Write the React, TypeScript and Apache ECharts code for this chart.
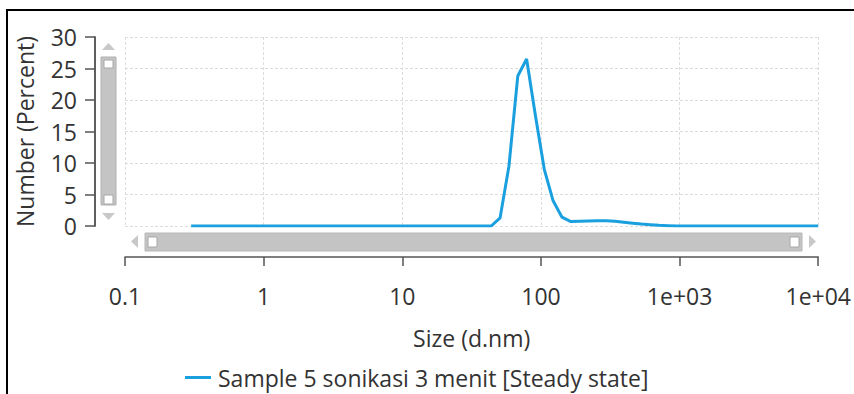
import React, { useEffect, useRef } from "react";
import * as echarts from "echarts";

const sizes = [0.3, 1, 10, 37.84, 43.82, 50.75, 58.77, 68.06, 78.82, 91.28, 105.7, 122.4, 141.8, 164.2, 190.1, 220.2, 255.0, 295.3, 342.0, 396.1, 458.7, 531.2, 615.1, 712.4, 825.0, 955.4, 1106, 10000];
const numbers = [0, 0, 0, 0, 0, 1.3, 9.5, 23.8, 26.5, 17.5, 9.0, 4.0, 1.4, 0.7, 0.75, 0.8, 0.85, 0.85, 0.75, 0.6, 0.45, 0.3, 0.2, 0.1, 0.05, 0, 0, 0];
const xTickLabels = ["0.1", "1", "10", "100", "1e+03", "1e+04"];
const seriesName = "Sample 5 sonikasi 3 menit [Steady state]";
const xTitle = "Size (d.nm)";
const yTitle = "Number (Percent)";

const FONT = "Open Sans";
const FS = 23;
const TXT = "#333333";
const BLUE = "#1a9fdf";
const GRAYBAR = "#c4c4c4";
const ARROW = "#c8c8c8";
const AXIS = "#555555";

export default function App() {
  const ref = useRef<HTMLDivElement>(null);
  useEffect(() => {
    if (!ref.current) return;
    const chart = echarts.init(ref.current, null, { renderer: "svg" });
    const data = sizes.map((s, i) => [s, numbers[i]]);
    chart.setOption({
      animation: false,
      textStyle: { fontFamily: FONT },
      grid: { left: 125, right: 34, top: 37, bottom: 168, containLabel: false },
      xAxis: {
        type: "log",
        logBase: 10,
        min: 0.1,
        max: 10000,
        offset: 31,
        name: xTitle,
        nameLocation: "middle",
        nameGap: 69,
        nameTextStyle: { fontSize: FS, color: TXT, fontFamily: FONT, verticalAlign: "top" },
        axisLine: { show: true, onZero: false, lineStyle: { color: AXIS, width: 1.5 } },
        axisTick: { show: true, length: 9, lineStyle: { color: AXIS, width: 1.5 } },
        minorTick: { show: false },
        axisLabel: {
          fontSize: FS,
          color: TXT,
          fontFamily: FONT,
          margin: 27,
          formatter: (v: number) => {
            const idx = Math.round(Math.log10(v)) + 1;
            return xTickLabels[idx] ?? "";
          },
        },
        splitLine: {
          show: true,
          showMinLine: true,
          showMaxLine: true,
          lineStyle: { color: "#dcdcdc", type: [3, 2], width: 1 },
        },
      },
      yAxis: {
        type: "value",
        min: 0,
        max: 30,
        interval: 5,
        offset: 30,
        name: yTitle,
        nameLocation: "middle",
        nameGap: 59,
        nameTextStyle: { fontSize: FS, color: TXT, fontFamily: FONT },
        axisLine: { show: true, onZero: false, lineStyle: { color: AXIS, width: 1.5 } },
        axisTick: { show: true, length: 10, lineStyle: { color: AXIS, width: 1.5 } },
        axisLabel: { fontSize: FS, color: TXT, fontFamily: FONT, margin: 18 },
        splitLine: {
          show: true,
          showMinLine: true,
          showMaxLine: true,
          lineStyle: { color: "#dcdcdc", type: [3, 2], width: 1 },
        },
      },
      legend: {
        show: true,
        left: 185,
        top: 366,
        padding: 0,
        icon: "rect",
        itemWidth: 26,
        itemHeight: 3,
        textStyle: { fontSize: FS, color: TXT, fontFamily: FONT, padding: [0, 0, 0, 2] },
        data: [seriesName],
      },
      series: [
        {
          type: "line",
          name: seriesName,
          data,
          showSymbol: false,
          symbol: "none",
          lineStyle: { color: BLUE, width: 3 },
          itemStyle: { color: BLUE },
        },
      ],
      graphic: [
        // outer frame
        { type: "line", shape: { x1: 6, y1: 10, x2: 854, y2: 10 }, style: { stroke: "#000", lineWidth: 2 } },
        { type: "line", shape: { x1: 7, y1: 9, x2: 7, y2: 394 }, style: { stroke: "#000", lineWidth: 2 } },
        // vertical axis spine (frame decoration)
        { type: "line", shape: { x1: 95, y1: 36.5, x2: 95, y2: 226.5 }, style: { stroke: AXIS, lineWidth: 1.5 } },
        // horizontal scrollbar
        { type: "polygon", shape: { points: [[138, 235], [138, 248], [131, 241.5]] }, style: { fill: ARROW } },
        { type: "rect", shape: { x: 145, y: 233, width: 657, height: 18 }, style: { fill: GRAYBAR, stroke: "#b8b8b8", lineWidth: 1 } },
        { type: "rect", shape: { x: 148, y: 237, width: 9, height: 10 }, style: { fill: "#ffffff", stroke: "#a8a8a8", lineWidth: 1 } },
        { type: "rect", shape: { x: 790, y: 237, width: 9, height: 10 }, style: { fill: "#ffffff", stroke: "#a8a8a8", lineWidth: 1 } },
        { type: "polygon", shape: { points: [[809, 235], [809, 248], [816, 241.5]] }, style: { fill: ARROW } },
        // vertical scrollbar
        { type: "polygon", shape: { points: [[102, 50], [115, 50], [108.5, 43]] }, style: { fill: ARROW } },
        { type: "rect", shape: { x: 101, y: 57, width: 15, height: 148 }, style: { fill: GRAYBAR, stroke: "#b0b0b0", lineWidth: 1 } },
        { type: "rect", shape: { x: 104, y: 60, width: 9, height: 8 }, style: { fill: "#ffffff", stroke: "#a8a8a8", lineWidth: 1 } },
        { type: "rect", shape: { x: 104, y: 195, width: 9, height: 9 }, style: { fill: "#ffffff", stroke: "#a8a8a8", lineWidth: 1 } },
        { type: "polygon", shape: { points: [[102, 213], [115, 213], [108.5, 220]] }, style: { fill: ARROW } },
      ],
    });
    return () => chart.dispose();
  }, []);
  return (
    <div
      ref={ref}
      style={{ position: "fixed", left: 0, top: 0, width: 854, height: 394, background: "#ffffff" }}
    />
  );
}
